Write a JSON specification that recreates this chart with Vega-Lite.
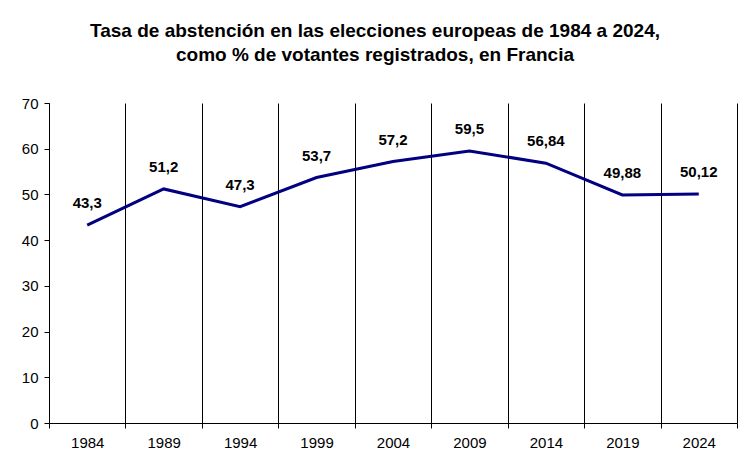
{
  "$schema": "https://vega.github.io/schema/vega-lite/v6.json",
  "width": 688,
  "height": 320,
  "autosize": "none",
  "padding": {"left": 49, "top": 103, "right": 14, "bottom": 51},
  "background": "white",
  "config": {
    "view": {"stroke": null},
    "font": "Liberation Sans",
    "locale": {"number": {"decimal": ",", "thousands": ".", "grouping": [3], "currency": ["", " €"]}}
  },
  "title": {
    "text": ["Tasa de abstención en las elecciones europeas de 1984 a 2024,", "como % de votantes registrados, en Francia"],
    "font": "Liberation Sans",
    "fontSize": 19,
    "fontWeight": "bold",
    "color": "black",
    "anchor": "middle",
    "dx": -18,
    "lineHeight": 24,
    "offset": 31
  },
  "data": {
    "values": [
      {"year": "1984", "rate": 43.3},
      {"year": "1989", "rate": 51.2},
      {"year": "1994", "rate": 47.3},
      {"year": "1999", "rate": 53.7},
      {"year": "2004", "rate": 57.2},
      {"year": "2009", "rate": 59.5},
      {"year": "2014", "rate": 56.84},
      {"year": "2019", "rate": 49.88},
      {"year": "2024", "rate": 50.12}
    ]
  },
  "encoding": {
    "x": {
      "field": "year",
      "type": "ordinal",
      "scale": {"type": "band", "paddingInner": 0, "paddingOuter": 0},
      "axis": {
        "title": null,
        "labelAngle": 0,
        "tickBand": "extent",
        "grid": true,
        "gridColor": "black",
        "gridOpacity": 1,
        "gridWidth": 1,
        "domainColor": "black",
        "tickColor": "black",
        "tickSize": 5,
        "labelFontSize": 15,
        "labelColor": "black",
        "labelPadding": 7
      }
    },
    "y": {
      "field": "rate",
      "type": "quantitative",
      "scale": {"domain": [0, 70], "nice": false},
      "axis": {
        "title": null,
        "values": [0, 10, 20, 30, 40, 50, 60, 70],
        "grid": false,
        "domainColor": "black",
        "tickColor": "black",
        "tickSize": 5,
        "labelFontSize": 15,
        "labelColor": "black",
        "labelPadding": 6
      }
    }
  },
  "layer": [
    {"mark": {"type": "line", "color": "#000080", "strokeWidth": 3}},
    {
      "mark": {"type": "text", "dy": -22, "fontSize": 15, "fontWeight": "bold", "color": "black", "font": "Liberation Sans"},
      "encoding": {"text": {"field": "rate", "type": "quantitative", "format": "~g"}}
    }
  ]
}
